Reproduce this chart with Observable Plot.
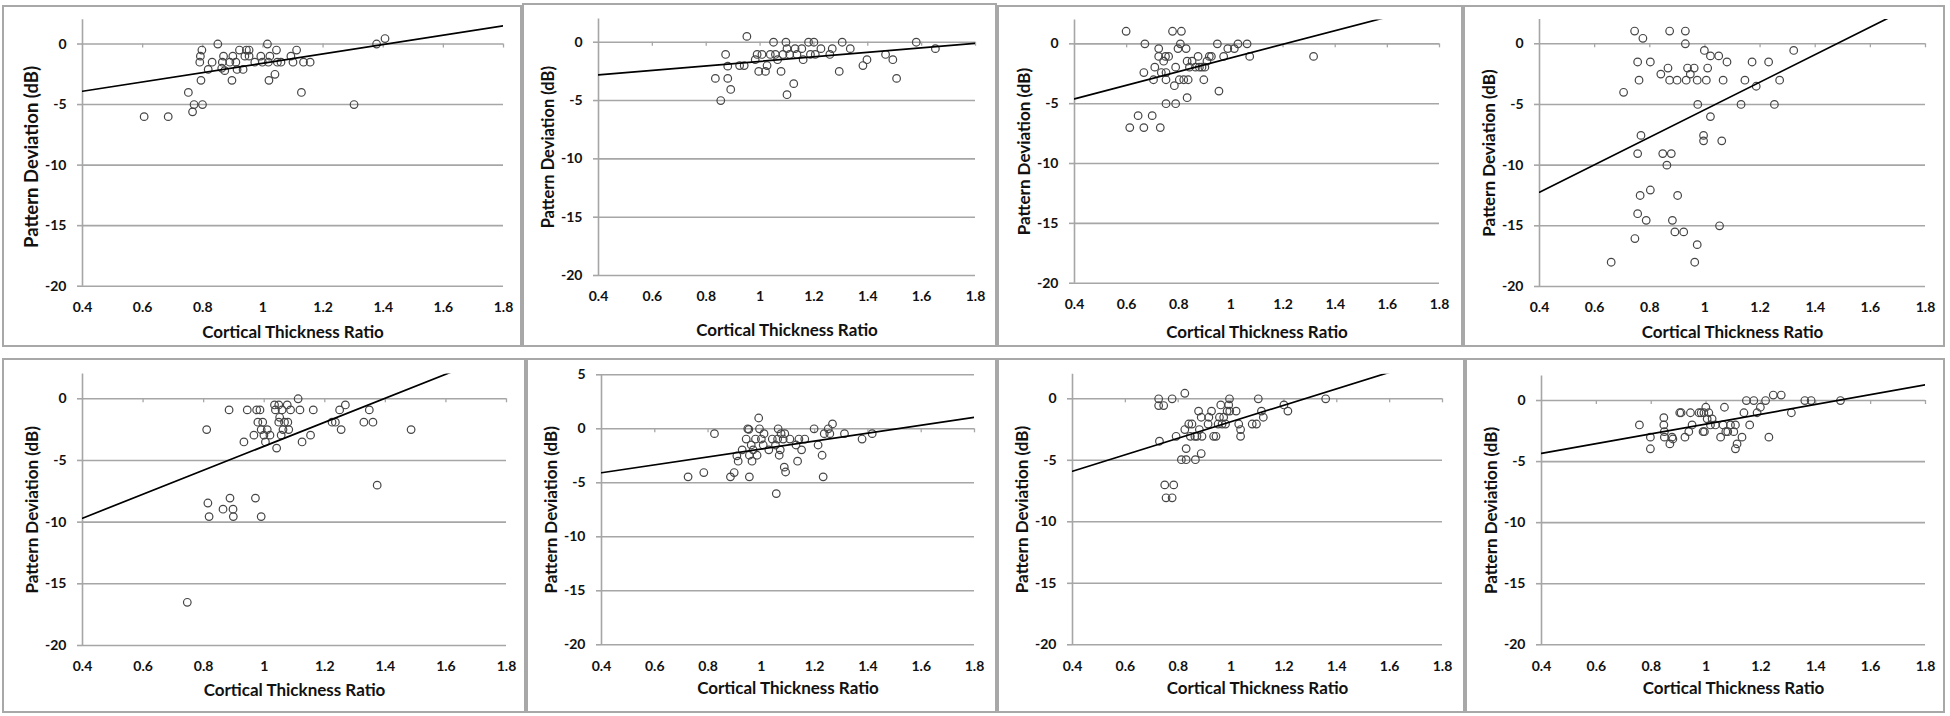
<!DOCTYPE html>
<html><head><meta charset="utf-8">
<script src="https://cdn.jsdelivr.net/npm/d3@7"></script>
<script src="https://cdn.jsdelivr.net/npm/@observablehq/plot@0.6"></script>
<style>
html,body{margin:0;padding:0;background:#fff;}
#chart{position:relative;width:1950px;height:716px;overflow:hidden;background:#fff;}
.panel{position:absolute;}
.panel svg{display:block;overflow:visible;}
.border{position:absolute;border:2px solid #a8a8a8;box-sizing:border-box;pointer-events:none;}
</style></head><body><div id="chart"></div>
<script>
// ---------------- data ----------------
const xTitle = "Cortical Thickness Ratio";
const yTitle = "Pattern Deviation (dB)";
const xTicks = [0.4, 0.6, 0.8, 1, 1.2, 1.4, 1.6, 1.8];
const yTicksA = [0, -5, -10, -15, -20];
const yTicksB = [5, 0, -5, -10, -15, -20];

const p1 = [[0.605,-6],[0.685,-6],[0.752,-4],[0.766,-5.6],[0.771,-5],[0.799,-5],[0.794,-3],[0.79,-1.5],[0.792,-1],[0.797,-0.5],[0.818,-2.1],[0.831,-1.5],[0.85,0],[0.863,-2],[0.865,-1.5],[0.869,-1],[0.873,-2.2],[0.89,-1.5],[0.897,-3],[0.9,-1],[0.91,-1.5],[0.914,-2.1],[0.922,-0.5],[0.934,-2.1],[0.94,-1],[0.945,-0.5],[0.954,-0.5],[0.954,-1],[0.973,-1.5],[0.993,-1],[0.998,-1.5],[1.015,0],[1.018,-1.5],[1.023,-1],[1.02,-3],[1.04,-2.5],[1.045,-0.5],[1.048,-1.5],[1.06,-1.5],[1.093,-1],[1.1,-1.5],[1.112,-0.5],[1.128,-4],[1.135,-1.5],[1.157,-1.5],[1.303,-5],[1.378,0],[1.406,0.45]];

const p2 = [[0.834,-3.1],[0.854,-5],[0.872,-1.05],[0.88,-2.05],[0.88,-3.1],[0.891,-4.05],[0.924,-2],[0.941,-2],[0.951,0.5],[0.982,-1.5],[0.989,-1.05],[0.995,-2.5],[1.007,-1.05],[1.02,-2.5],[1.026,-2],[1.038,-1.05],[1.05,0],[1.057,-1.05],[1.065,-1.5],[1.078,-2.5],[1.085,-1.05],[1.096,0],[1.1,-0.55],[1.1,-4.5],[1.11,-1.05],[1.125,-3.55],[1.13,-0.55],[1.137,-1.05],[1.155,-0.55],[1.16,-1.5],[1.18,0],[1.187,-1.05],[1.2,0],[1.205,-1.05],[1.226,-0.55],[1.259,-1.05],[1.268,-0.55],[1.294,-2.5],[1.305,0],[1.335,-0.55],[1.382,-2],[1.397,-1.5],[1.466,-1.05],[1.493,-1.5],[1.507,-3.1],[1.58,0],[1.651,-0.55]];

const p3 = [[0.598,1.05],[0.612,-7],[0.644,-6],[0.666,-7],[0.67,0],[0.666,-2.4],[0.698,-6],[0.703,-3],[0.708,-1.95],[0.723,-0.4],[0.723,-1.05],[0.729,-7],[0.733,-2.4],[0.742,-1.45],[0.749,-1.05],[0.751,-2.4],[0.751,-3],[0.751,-5],[0.761,-1.05],[0.776,1.05],[0.783,-3.5],[0.788,-1.95],[0.788,-5],[0.797,-0.4],[0.802,-3],[0.806,0],[0.81,1.05],[0.819,-3],[0.828,-0.4],[0.832,-1.45],[0.832,-4.5],[0.836,-3],[0.841,-1.95],[0.851,-1.45],[0.864,-1.95],[0.874,-1.05],[0.879,-1.95],[0.889,-1.95],[0.896,-3],[0.9,-1.95],[0.908,-1.45],[0.917,-1.05],[0.925,-1.05],[0.948,0],[0.954,-3.95],[0.972,-1.05],[0.988,-0.4],[1.013,-0.4],[1.027,0],[1.062,0],[1.072,-1.05],[1.317,-1.05]];

const p4 = [[0.745,1.05],[0.775,0.45],[0.756,-1.5],[0.802,-1.5],[0.705,-4],[0.761,-3],[0.84,-2.5],[0.866,-2],[0.872,1.05],[0.872,-3],[0.899,-3],[0.929,1.05],[0.929,0],[0.932,-3],[0.937,-2],[0.947,-2.5],[0.961,-2],[0.972,-3],[0.974,-5],[0.998,-0.55],[1.005,-3],[1.01,-2],[1.02,-1],[1.02,-6],[1.05,-1],[1.066,-3],[1.08,-1.5],[0.995,-7.55],[0.995,-8],[1.061,-8],[0.768,-7.55],[0.756,-9.05],[0.847,-9.05],[0.878,-9.05],[0.862,-10],[0.802,-12.05],[0.765,-12.5],[0.901,-12.5],[0.756,-14],[0.787,-14.55],[0.882,-14.55],[0.891,-15.5],[0.923,-15.5],[0.746,-16.05],[0.972,-16.55],[0.66,-18],[0.963,-18],[1.053,-15],[1.131,-5],[1.145,-3],[1.171,-1.5],[1.186,-3.5],[1.231,-1.5],[1.252,-5],[1.271,-3],[1.322,-0.55]];

const p5 = [[0.746,-16.5],[0.81,-2.5],[0.814,-8.45],[0.818,-9.55],[0.864,-8.95],[0.884,-0.9],[0.887,-8.05],[0.897,-8.95],[0.898,-9.55],[0.933,-3.5],[0.944,-0.9],[0.966,-2.95],[0.971,-8.05],[0.975,-0.9],[0.979,-1.9],[0.986,-0.9],[0.99,-9.55],[0.99,-2.5],[0.995,-1.9],[0.999,-2.95],[1.004,-3.5],[1.01,-2.5],[1.019,-2.95],[1.034,-0.5],[1.037,-0.9],[1.041,-4],[1.048,-0.5],[1.048,-1.9],[1.051,-1.5],[1.056,-2.95],[1.059,-0.9],[1.062,-2.5],[1.067,-1.9],[1.076,-0.5],[1.078,-1.9],[1.081,-2.5],[1.087,-0.9],[1.112,0],[1.118,-0.9],[1.125,-3.5],[1.153,-2.95],[1.162,-0.9],[1.224,-1.9],[1.235,-1.9],[1.249,-0.9],[1.254,-2.5],[1.268,-0.5],[1.329,-1.9],[1.347,-0.9],[1.359,-1.9],[1.373,-7],[1.485,-2.5]];

const p6 = [[0.725,-4.45],[0.784,-4.05],[0.824,-0.45],[0.884,-4.45],[0.898,-4.05],[0.908,-2.5],[0.913,-3],[0.928,-1.95],[0.943,-0.95],[0.949,0],[0.953,-0.05],[0.955,-4.45],[0.955,-2.45],[0.962,-1.5],[0.965,-3],[0.969,-1.95],[0.978,-0.95],[0.984,-2.45],[0.99,1],[0.993,0],[1.0,-0.95],[1.007,-1.5],[1.01,-0.45],[1.028,-1.95],[1.041,-0.95],[1.053,-1.5],[1.056,-6],[1.061,-0.95],[1.063,0],[1.067,-2.45],[1.071,-1.95],[1.074,-0.45],[1.082,-0.95],[1.086,-3.55],[1.088,-0.45],[1.091,-4],[1.107,-0.95],[1.13,-1.5],[1.136,-3],[1.141,-0.95],[1.151,-1.95],[1.163,-0.95],[1.198,0],[1.213,-1.5],[1.228,-2.45],[1.232,-4.45],[1.236,-0.45],[1.251,0],[1.257,-0.45],[1.267,0.45],[1.312,-0.45],[1.378,-0.95],[1.416,-0.45]];

const p7 = [[0.726,0],[0.726,-0.55],[0.745,-0.55],[0.729,-3.45],[0.749,-7],[0.754,-8.05],[0.777,0],[0.783,-7],[0.777,-8.05],[0.792,-3.05],[0.812,-4.95],[0.825,0.45],[0.825,-2.5],[0.83,-4.95],[0.83,-4.05],[0.84,-2.05],[0.846,-3.05],[0.852,-2.05],[0.863,-3.05],[0.865,-4.95],[0.871,-3.05],[0.877,-1],[0.88,-2.5],[0.887,-4.45],[0.887,-1.5],[0.89,-3.05],[0.913,-2.05],[0.916,-1.5],[0.926,-1],[0.934,-3.05],[0.943,-3.05],[0.951,-2.05],[0.956,-1.5],[0.961,-0.5],[0.966,-2.05],[0.972,-1.5],[0.979,-2.05],[0.985,-1],[0.991,-0.5],[0.994,0],[0.995,-1],[1.019,-1],[1.029,-2.05],[1.036,-2.5],[1.036,-3.05],[1.08,-2.05],[1.096,-2.05],[1.103,0],[1.115,-1],[1.122,-1.5],[1.2,-0.5],[1.215,-1],[1.358,0]];

const p8 = [[0.757,-2],[0.797,-3],[0.797,-3.95],[0.846,-1.4],[0.846,-2],[0.848,-2.55],[0.848,-3],[0.868,-3.55],[0.876,-3],[0.879,-3.15],[0.904,-1],[0.909,-1],[0.923,-3],[0.937,-2.55],[0.943,-1],[0.949,-2],[0.974,-1],[0.982,-1],[0.989,-2.55],[0.992,-1],[0.994,-2.55],[0.999,-0.55],[1.004,-1.5],[1.01,-1],[1.016,-2],[1.022,-1.5],[1.034,-2],[1.053,-3],[1.062,-2],[1.067,-0.55],[1.072,-2.55],[1.079,-2.55],[1.089,-2],[1.101,-2.55],[1.107,-2],[1.107,-3.95],[1.113,-3.55],[1.131,-3],[1.138,-1],[1.147,0],[1.159,-2],[1.174,0],[1.186,-1],[1.198,-0.55],[1.217,0],[1.229,-3],[1.245,0.45],[1.274,0.45],[1.311,-1],[1.36,0],[1.383,0],[1.49,0]];

const points = [p1, p2, p3, p4, p5, p6, p7, p8];
// trend line values at x = 0.4 and x = 1.8 (line is clipped by the plot area)
const trendAt04 = [-3.9, -2.8, -4.6, -12.23, -9.68, -4.07, -5.89, -4.32];
const trendAt18 = [1.5, -0.1, 3.38, 3.65, 3.94, 1.07, 3.5, 1.28];
const yMaxes = [2, 2, 2, 2, 2, 5, 2, 2];

// ---------------- layout (pixel positions) ----------------
const layout = [
  {box:[2,5,522,347],    fx:[82,503],    fy:[19.3,285.7],  tdy:46, yfs:18.5, ydy:4},
  {box:[522,3,997,347],  fx:[598,975],   fy:[18.4,275],    tdy:55, yfs:16.5, ydy:0},
  {box:[997,5,1463,347], fx:[1074,1439], fy:[19.4,282.7],  tdy:49, yfs:17, ydy:0},
  {box:[1463,5,1945,347],fx:[1539,1925], fy:[19,286],      tdy:46, yfs:17, ydy:0},
  {box:[2,358,526,713],  fx:[82,506],    fy:[373.6,645],   tdy:45, yfs:17, ydy:0},
  {box:[526,358,997,713],fx:[601,974],   fy:[374.3,644.3], tdy:44, yfs:17, ydy:0},
  {box:[997,358,1465,713],fx:[1072,1442],fy:[373.7,644.3], tdy:44, yfs:17, ydy:0},
  {box:[1465,358,1945,713],fx:[1541,1925],fy:[375.6,644.3],tdy:44, yfs:17, ydy:0}
];

const gridColor = "#a6a6a6";
const chart = document.getElementById("chart");

layout.forEach((L, i) => {
  const [bx0, by0, bx1, by1] = L.box;
  const w = bx1 - bx0, h = by1 - by0;
  const ymax = yMaxes[i];
  const yt = ymax === 5 ? yTicksB : yTicksA;
  const tickLen = 4 * (ymax + 20) / (L.fy[1] - L.fy[0]);
  const plot = Plot.plot({
    width: w,
    height: h,
    marginLeft: L.fx[0] - bx0,
    marginRight: bx1 - L.fx[1],
    marginTop: L.fy[0] - by0,
    marginBottom: by1 - L.fy[1],
    x: {domain: [0.4, 1.8]},
    y: {domain: [-20, ymax]},
    style: {fontFamily: "Lato, 'Open Sans', sans-serif", fontSize: "14px", fontWeight: "bold", color: "#111", background: "transparent", overflow: "visible"},
    marks: [
      Plot.ruleY(yt, {stroke: gridColor, strokeWidth: 1.6}),
      Plot.ruleX([0.4], {y1: -20, y2: ymax, stroke: gridColor, strokeWidth: 1.6}),
      Plot.ruleX(xTicks.slice(1), {x: d => d, y1: 0, y2: -tickLen, stroke: gridColor, strokeWidth: 1.3}),
      Plot.axisY(yt, {tickSize: 5, tickPadding: 11, stroke: gridColor, strokeWidth: 1.6, fill: "#111", tickFormat: d => String(d), label: null}),
      Plot.axisX(xTicks, {tickSize: 0, tickPadding: 16, fill: "#111", tickFormat: d => String(d), label: null}),
      Plot.dot(points[i], {x: d => d[0], y: d => d[1], r: 3.8, stroke: "#454545", strokeWidth: 1.2, fill: "none"}),
      Plot.line([[0.4, trendAt04[i]], [1.8, trendAt18[i]]], {x: d => d[0], y: d => d[1], stroke: "#000", strokeWidth: 1.7, clip: true}),
      Plot.text([xTitle], {frameAnchor: "bottom", dy: L.tdy, fontSize: 17, fill: "#111", textAnchor: "middle", lineAnchor: "middle"}),
      Plot.text([yTitle], {frameAnchor: "left", dx: -50, dy: L.ydy, rotate: -90, fontSize: L.yfs, fill: "#111", textAnchor: "middle", lineAnchor: "middle"})
    ]
  });
  const div = document.createElement("div");
  div.className = "panel";
  div.style.left = bx0 + "px";
  div.style.top = by0 + "px";
  div.appendChild(plot);
  chart.appendChild(div);
  const b = document.createElement("div");
  b.className = "border";
  b.style.left = bx0 + "px";
  b.style.top = by0 + "px";
  b.style.width = w + "px";
  b.style.height = h + "px";
  chart.appendChild(b);
});
</script></body></html>
